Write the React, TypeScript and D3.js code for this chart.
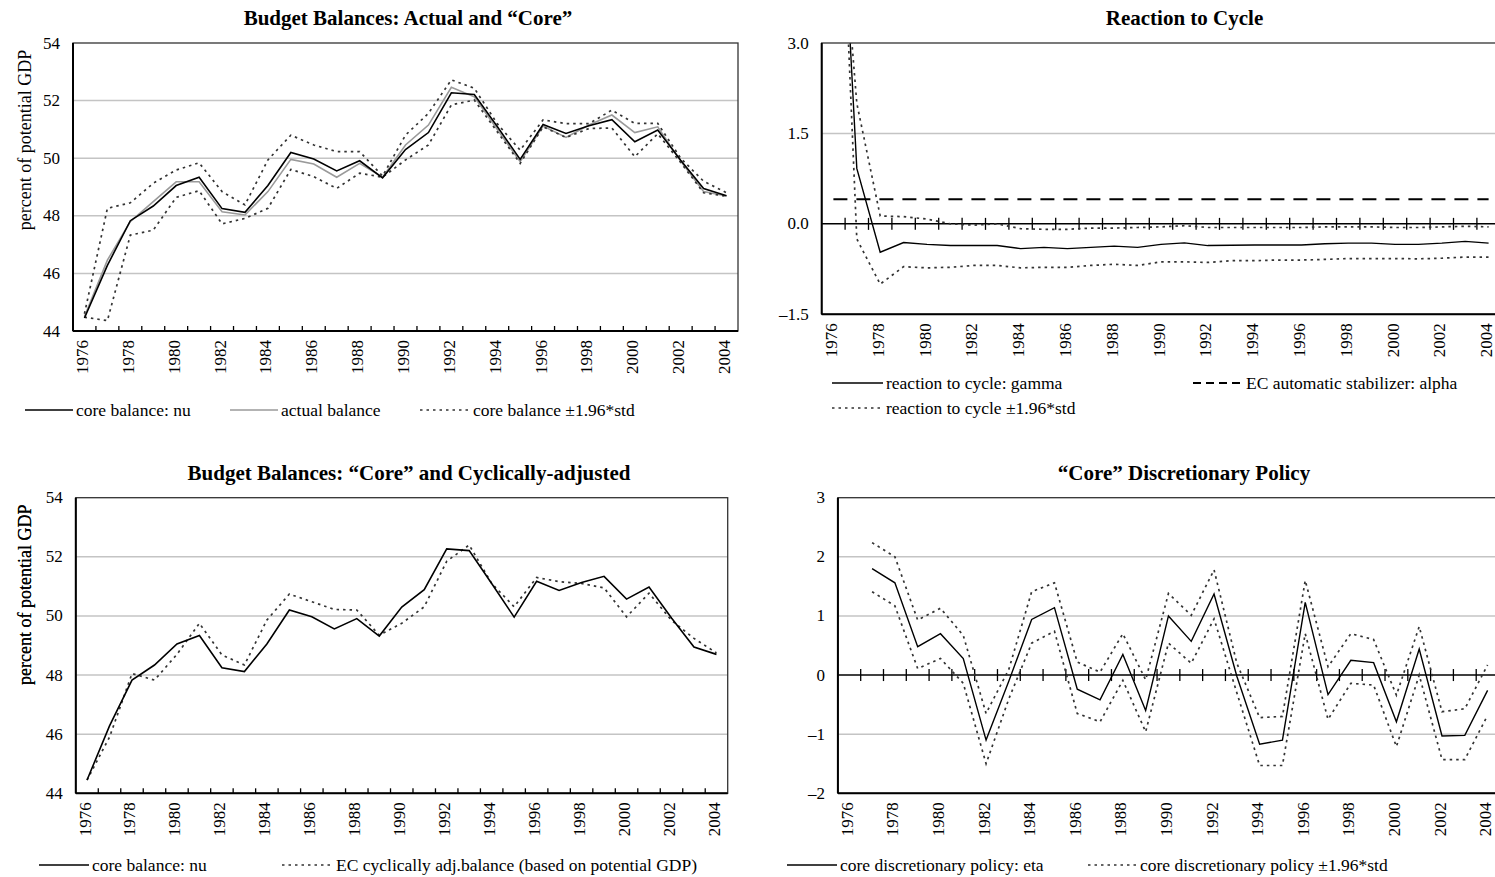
import React from "react";
import * as d3 from "d3";

const years = [1976, 1977, 1978, 1979, 1980, 1981, 1982, 1983, 1984, 1985, 1986, 1987, 1988, 1989, 1990, 1991, 1992, 1993, 1994, 1995, 1996, 1997, 1998, 1999, 2000, 2001, 2002, 2003, 2004];
const yearLabels = [1976, 1978, 1980, 1982, 1984, 1986, 1988, 1990, 1992, 1994, 1996, 1998, 2000, 2002, 2004];

// Panel 1 / 3
const coreNu = [44.45, 46.28, 47.83, 48.34, 49.05, 49.34, 48.25, 48.12, 49.05, 50.2, 49.97, 49.56, 49.91, 49.32, 50.3, 50.89, 52.27, 52.21, 51.1, 49.96, 51.17, 50.86, 51.13, 51.34, 50.57, 50.98, 49.93, 48.95, 48.7];
const actualBalance = [44.5, 46.46, 47.8, 48.49, 49.18, 49.18, 48.14, 48.03, 48.84, 49.96, 49.8, 49.34, 49.82, 49.34, 50.46, 51.15, 52.46, 52.13, 51.0, 49.88, 51.12, 50.72, 51.15, 51.5, 50.89, 51.09, 49.9, 48.84, 48.69];
const coreUpper = [44.6, 48.26, 48.45, 49.13, 49.59, 49.84, 48.84, 48.38, 49.94, 50.8, 50.46, 50.23, 50.23, 49.38, 50.8, 51.56, 52.72, 52.43, 51.2, 50.28, 51.33, 51.2, 51.2, 51.67, 51.21, 51.21, 50.0, 49.2, 48.8];
const coreLower = [44.48, 44.36, 47.33, 47.5, 48.64, 48.87, 47.72, 47.91, 48.26, 49.61, 49.36, 48.95, 49.48, 49.34, 49.94, 50.46, 51.85, 52.02, 50.92, 49.82, 51.09, 50.72, 51.03, 51.05, 50.05, 50.85, 49.85, 48.8, 48.68];
const ecCycAdj = [44.45, 45.9, 48.05, 47.83, 48.7, 49.75, 48.68, 48.34, 49.86, 50.74, 50.48, 50.22, 50.2, 49.35, 49.75, 50.31, 51.85, 52.4, 51.1, 50.31, 51.3, 51.16, 51.1, 50.95, 49.97, 50.77, 49.85, 49.24, 48.75];

// Panel 2
const gamma = [8.3, 0.92, -0.47, -0.31, -0.34, -0.36, -0.36, -0.36, -0.41, -0.39, -0.41, -0.39, -0.37, -0.39, -0.34, -0.315, -0.36, -0.355, -0.35, -0.35, -0.35, -0.33, -0.32, -0.32, -0.34, -0.34, -0.32, -0.29, -0.32];
const gammaBandA = [6.8, 2.0, 0.13, 0.12, 0.08, 0.0, -0.02, 0.0, -0.08, -0.09, -0.09, -0.07, -0.07, -0.06, -0.05, -0.03, -0.06, -0.06, -0.06, -0.06, -0.06, -0.05, -0.05, -0.05, -0.06, -0.06, -0.05, -0.04, -0.05];
const gammaBandB = [8.9, -0.25, -1.0, -0.71, -0.73, -0.72, -0.69, -0.69, -0.73, -0.72, -0.72, -0.69, -0.67, -0.69, -0.63, -0.63, -0.64, -0.61, -0.61, -0.6, -0.6, -0.59, -0.575, -0.575, -0.575, -0.58, -0.57, -0.55, -0.55];
const alphaEC = [0.41, 0.41, 0.41, 0.41, 0.41, 0.41, 0.41, 0.41, 0.41, 0.41, 0.41, 0.41, 0.41, 0.41, 0.41, 0.41, 0.41, 0.41, 0.41, 0.41, 0.41, 0.41, 0.41, 0.41, 0.41, 0.41, 0.41, 0.41, 0.41];

// Panel 4
const eta = [null, 1.8, 1.56, 0.48, 0.7, 0.28, -1.1, -0.1, 0.94, 1.14, -0.24, -0.42, 0.35, -0.6, 1.0, 0.57, 1.37, -0.02, -1.17, -1.1, 1.23, -0.33, 0.25, 0.21, -0.79, 0.44, -1.03, -1.02, -0.26];
const etaUpper = [null, 2.24, 2.0, 0.93, 1.13, 0.67, -0.65, 0.1, 1.41, 1.56, 0.22, 0.05, 0.7, -0.08, 1.38, 1.01, 1.78, 0.2, -0.72, -0.7, 1.6, 0.14, 0.7, 0.6, -0.34, 0.82, -0.62, -0.57, 0.17];
const etaLower = [null, 1.41, 1.17, 0.11, 0.28, -0.14, -1.5, -0.4, 0.54, 0.74, -0.65, -0.79, -0.09, -0.96, 0.54, 0.2, 0.95, -0.3, -1.53, -1.53, 0.7, -0.75, -0.14, -0.17, -1.21, 0.0, -1.43, -1.43, -0.68];

const FONT = "'Liberation Serif', 'Times New Roman', serif";
const DOT = "2.5,4";
const DOT_COLOR = "#333";

type Series = { values: (number | null)[]; stroke: string; width: number; dash?: string };

type PanelProps = {
  id: string;
  left: number; right: number; top: number; bottom: number;
  domain: [number, number];
  yTicks: number[];
  yFmt: (v: number) => string;
  zeroAxis: boolean;
  series: Series[];
  title: string; titleX: number; titleY: number;
  yTitle?: string;
};

function Panel(p: PanelProps) {
  const x = d3.scaleBand<number>().domain(years).range([p.left, p.right]).padding(0);
  const bw = x.bandwidth();
  const cx = (yr: number) => (x(yr) as number) + bw / 2;
  const y = d3.scaleLinear().domain(p.domain).range([p.bottom, p.top]);
  const boundaries = years.slice(1).map((yr) => x(yr) as number);
  const grid = p.yTicks.filter((v) => v !== p.domain[0] && v !== p.domain[1] && !(p.zeroAxis && v === 0));
  return (
    <g>
      <defs>
        <clipPath id={p.id}>
          <rect x={p.left} y={p.top} width={p.right - p.left} height={p.bottom - p.top} />
        </clipPath>
      </defs>
      <text x={p.titleX} y={p.titleY} textAnchor="middle" fontFamily={FONT} fontWeight="bold" fontSize={21}>{p.title}</text>
      {grid.map((v) => (
        <line key={"g" + v} x1={p.left} x2={p.right} y1={y(v)} y2={y(v)} stroke="#c4c4c4" strokeWidth={1.5} />
      ))}
      {p.zeroAxis && (
        <g>
          <line x1={p.left} x2={p.right} y1={y(0)} y2={y(0)} stroke="#000" strokeWidth={1.5} />
          {boundaries.map((bx, i) => (
            <line key={"zt" + i} x1={bx} x2={bx} y1={y(0) - 6} y2={y(0) + 6} stroke="#000" strokeWidth={1.3} />
          ))}
        </g>
      )}
      <g clipPath={`url(#${p.id})`}>
        {p.series.map((s, i) => {
          const line = d3.line<number | null>()
            .defined((d) => d !== null)
            .x((_, j) => cx(years[j]))
            .y((d) => y(d as number));
          return (
            <path key={"s" + i} d={line(s.values) || ""} fill="none" stroke={s.stroke} strokeWidth={s.width}
              strokeDasharray={s.dash} strokeLinejoin="miter" />
          );
        })}
      </g>
      <rect x={p.left} y={p.top} width={p.right - p.left} height={p.bottom - p.top} fill="none" stroke="#333" strokeWidth={1.3} />
      <line x1={p.left} x2={p.left} y1={p.top} y2={p.bottom} stroke="#000" strokeWidth={2} />
      <line x1={p.left} x2={p.right} y1={p.bottom} y2={p.bottom} stroke="#000" strokeWidth={2} />
      {!p.zeroAxis && boundaries.map((bx, i) => (
        <line key={"bt" + i} x1={bx} x2={bx} y1={p.bottom - 5} y2={p.bottom} stroke="#000" strokeWidth={1.3} />
      ))}
      {p.yTicks.map((v) => (
        <text key={"yl" + v} x={p.left - 13} y={y(v)} textAnchor="end" dominantBaseline="central" fontFamily={FONT} fontSize={17}>{p.yFmt(v)}</text>
      ))}
      {yearLabels.map((yr) => (
        <text key={"xl" + yr} transform={`translate(${cx(yr) - 2},${p.bottom + 9}) rotate(-90)`} textAnchor="end" dominantBaseline="central" fontFamily={FONT} fontSize={17}>{yr}</text>
      ))}
      {p.yTitle && (
        <text transform={`translate(25,${p.top + 97}) rotate(-90)`} textAnchor="middle" dominantBaseline="central" fontFamily={FONT} fontSize={18}>{p.yTitle}</text>
      )}
    </g>
  );
}

function LegendItem({ x1, x2, y, label, stroke, width, dash }: { x1: number; x2: number; y: number; label: string; stroke: string; width: number; dash?: string }) {
  return (
    <g>
      <line x1={x1} x2={x2} y1={y} y2={y} stroke={stroke} strokeWidth={width} strokeDasharray={dash} />
      <text x={x2 + 3} y={y} dominantBaseline="central" fontFamily={FONT} fontSize={17.5}>{label}</text>
    </g>
  );
}

const minus = (v: number) => (v < 0 ? "\u2013" + Math.abs(v) : String(v));
const minus1 = (v: number) => (v < 0 ? "\u2013" + Math.abs(v).toFixed(1) : v.toFixed(1));

export default function App() {
  return (
    <svg width={1495} height={877} style={{ position: "absolute", left: 0, top: 0, background: "#fff" }}>
      <rect x={0} y={0} width={1495} height={877} fill="#fff" />
      <Panel id="c1" left={73} right={738} top={43} bottom={331} domain={[44, 54]} yTicks={[44, 46, 48, 50, 52, 54]}
        yFmt={(v) => String(v)} zeroAxis={false}
        title={"Budget Balances: Actual and \u201CCore\u201D"} titleX={408} titleY={25}
        yTitle="percent of potential GDP"
        series={[
          { values: actualBalance, stroke: "#9a9a9a", width: 1.6 },
          { values: coreUpper, stroke: DOT_COLOR, width: 1.7, dash: DOT },
          { values: coreLower, stroke: DOT_COLOR, width: 1.7, dash: DOT },
          { values: coreNu, stroke: "#000", width: 1.6 },
        ]} />
      <Panel id="c2" left={821.7} right={1500.3} top={43} bottom={314.3} domain={[-1.5, 3]} yTicks={[-1.5, 0, 1.5, 3]}
        yFmt={minus1} zeroAxis={true}
        title="Reaction to Cycle" titleX={1184.5} titleY={25}
        series={[
          { values: alphaEC, stroke: "#000", width: 2, dash: "14,9" },
          { values: gammaBandA, stroke: DOT_COLOR, width: 1.7, dash: DOT },
          { values: gammaBandB, stroke: DOT_COLOR, width: 1.7, dash: DOT },
          { values: gamma, stroke: "#000", width: 1.4 },
        ]} />
      <Panel id="c3" left={75.8} right={727.7} top={497.7} bottom={793.3} domain={[44, 54]} yTicks={[44, 46, 48, 50, 52, 54]}
        yFmt={(v) => String(v)} zeroAxis={false}
        title={"Budget Balances: \u201CCore\u201D and Cyclically-adjusted"} titleX={409} titleY={480}
        yTitle="percent of potential GDP"
        series={[
          { values: ecCycAdj, stroke: DOT_COLOR, width: 1.7, dash: DOT },
          { values: coreNu, stroke: "#000", width: 1.6 },
        ]} />
      <Panel id="c4" left={837.9} right={1499} top={497.7} bottom={793.3} domain={[-2, 3]} yTicks={[-2, -1, 0, 1, 2, 3]}
        yFmt={minus} zeroAxis={true}
        title={"\u201CCore\u201D Discretionary Policy"} titleX={1184} titleY={480}
        yTitle="percent of potential GDP"
        series={[
          { values: etaUpper, stroke: DOT_COLOR, width: 1.7, dash: DOT },
          { values: etaLower, stroke: DOT_COLOR, width: 1.7, dash: DOT },
          { values: eta, stroke: "#000", width: 1.4 },
        ]} />
      {/* Legends */}
      <LegendItem x1={25} x2={73} y={410} label="core balance: nu" stroke="#000" width={1.6} />
      <LegendItem x1={230} x2={278} y={410} label="actual balance" stroke="#9a9a9a" width={1.6} />
      <LegendItem x1={420} x2={470} y={410} label={"core balance \u00B11.96*std"} stroke={DOT_COLOR} width={1.7} dash={DOT} />

      <LegendItem x1={832} x2={883} y={383} label="reaction to cycle: gamma" stroke="#000" width={1.6} />
      <LegendItem x1={1193} x2={1243} y={383} label="EC automatic stabilizer: alpha" stroke="#000" width={2} dash="8,5" />
      <LegendItem x1={832} x2={883} y={408} label={"reaction to cycle \u00B11.96*std"} stroke={DOT_COLOR} width={1.7} dash={DOT} />

      <LegendItem x1={39} x2={89} y={865} label="core balance: nu" stroke="#000" width={1.6} />
      <LegendItem x1={282} x2={333} y={865} label="EC cyclically adj.balance (based on potential GDP)" stroke={DOT_COLOR} width={1.7} dash={DOT} />

      <LegendItem x1={787} x2={837} y={865} label="core discretionary policy: eta" stroke="#000" width={1.6} />
      <LegendItem x1={1088} x2={1137} y={865} label={"core discretionary policy \u00B11.96*std"} stroke={DOT_COLOR} width={1.7} dash={DOT} />
    </svg>
  );
}
